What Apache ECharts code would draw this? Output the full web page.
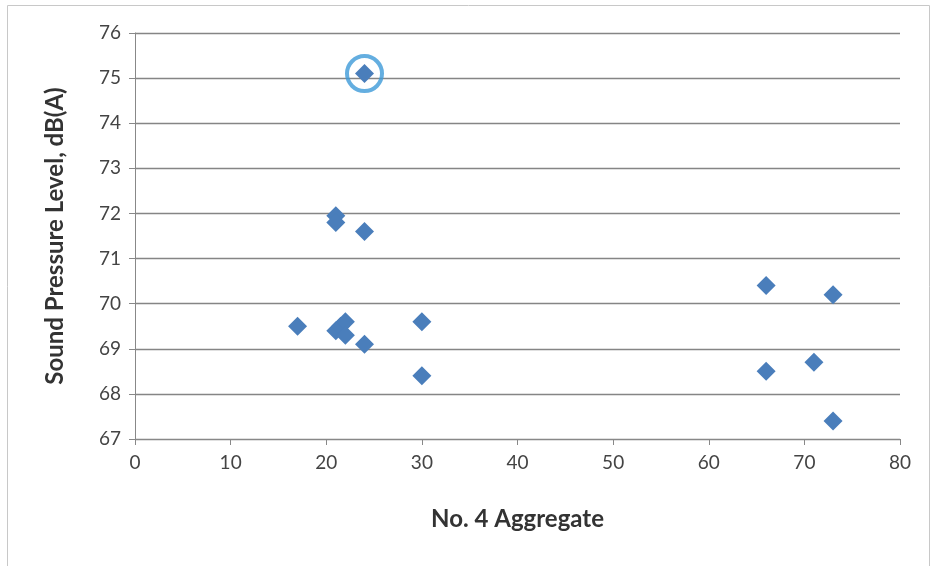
<!DOCTYPE html>
<html><head><meta charset="utf-8">
<script src="https://cdn.jsdelivr.net/npm/echarts@6/dist/echarts.min.js"></script>
<style>html,body{margin:0;padding:0;background:#fff}#c{width:932px;height:566px}</style>
</head><body><div id="c"></div>
<script>
const xTitle = 'No. 4 Aggregate';
const yTitle = 'Sound Pressure Level, dB(A)';
const aggregate = [24, 21, 21, 24, 17, 21, 21.5, 22, 22, 24, 30, 30, 66, 66, 71, 73, 73];
const spl =       [75.1, 71.95, 71.8, 71.6, 69.5, 69.4, 69.5, 69.6, 69.3, 69.1, 69.6, 68.4, 70.4, 68.5, 68.7, 70.2, 67.4];
const highlighted = [[24, 75.1]];

const chart = echarts.init(document.getElementById('c'));
const font = 'Lato, "Open Sans", sans-serif';
chart.setOption({
  animation: false,
  graphic: [{type:'rect', shape:{x:7.5,y:5.5,width:922,height:570}, style:{fill:'none',stroke:'#c8c8c8',lineWidth:1}}],
  grid: {left:135, right:32, top:33, bottom:127},
  xAxis: {
    type:'value', min:0, max:80, interval:10,
    name:xTitle, nameLocation:'middle', nameGap:68,
    nameTextStyle:{fontFamily:font, fontSize:24, fontWeight:'bold', color:'#333'},
    axisLine:{show:true, onZero:false, lineStyle:{color:'#888', width:1}},
    axisTick:{show:true, length:6, lineStyle:{color:'#888'}},
    axisLabel:{fontFamily:font, fontSize:19, color:'#444', margin:14},
    splitLine:{show:false}
  },
  yAxis: {
    type:'value', min:67, max:76, interval:1,
    name:yTitle, nameLocation:'middle', nameGap:68,
    nameTextStyle:{fontFamily:font, fontSize:24, fontWeight:'bold', color:'#333'},
    axisLine:{show:true, lineStyle:{color:'#888', width:1}},
    axisTick:{show:true, length:6, lineStyle:{color:'#888'}},
    axisLabel:{fontFamily:font, fontSize:19, color:'#444', margin:14},
    splitLine:{show:true, lineStyle:{color:'#858585', width:1.3}}
  },
  series: [
    {type:'scatter', symbol:'diamond', symbolSize:19,
     itemStyle:{color:'#4a7ebb', opacity:1},
     data: aggregate.map((x,i)=>[x, spl[i]])},
    {type:'scatter', symbol:'circle', symbolSize:35, z:3,
     itemStyle:{color:'none', borderColor:'#3d9ad8', borderWidth:4},
     data: highlighted}
  ]
});
</script></body></html>
